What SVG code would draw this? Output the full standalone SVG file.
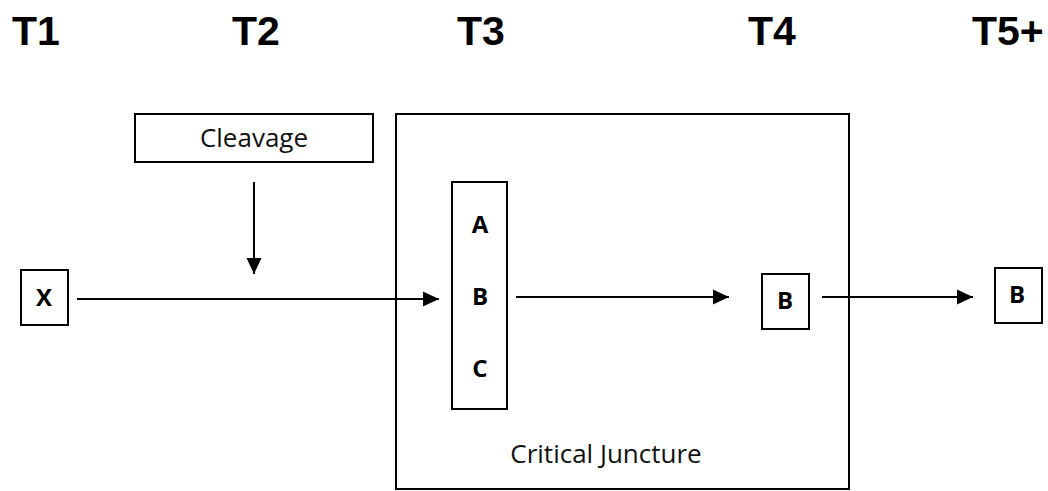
<svg xmlns="http://www.w3.org/2000/svg" width="1048" height="491" viewBox="0 0 1048 491">
<defs>
<marker id="arr" markerUnits="userSpaceOnUse" markerWidth="18" markerHeight="18" viewBox="0 0 18 18" refX="16" refY="9" orient="auto">
<path d="M0,1.5 L16,9 L0,16.5 Z" fill="#000"/>
</marker>
<style>
.box{fill:#fff;stroke:#000;stroke-width:2}
.frame{fill:none;stroke:#000;stroke-width:2}
.hdr{font-family:"Liberation Sans",Arial,sans-serif;font-weight:bold;font-size:41px;fill:#000}
.lbl{font-family:"Open Sans","Liberation Sans",sans-serif;font-size:26px;fill:#111;text-anchor:middle}
.let{font-family:"Open Sans","Liberation Sans",sans-serif;font-weight:bold;font-size:24px;fill:#000;text-anchor:middle}
.conn{stroke:#000;stroke-width:2;fill:none;marker-end:url(#arr)}
</style>
</defs>
<rect width="1048" height="491" fill="#fff"/>
<g id="headers">
<text class="hdr" x="12" y="45">T1</text>
<text class="hdr" x="232" y="45">T2</text>
<text class="hdr" x="457" y="45">T3</text>
<text class="hdr" x="748" y="45">T4</text>
<text class="hdr" x="972" y="45">T5+</text>
</g>
<g id="critical-juncture">
<rect class="frame" x="396" y="114" width="453" height="375"/>
<text class="lbl" x="606" y="463">Critical Juncture</text>
</g>
<g id="cleavage">
<rect class="box" x="135" y="114" width="238" height="48"/>
<text class="lbl" x="254" y="147">Cleavage</text>
</g>
<g id="x">
<rect class="box" x="21" y="270" width="47" height="55"/>
<text class="let" x="44" y="306">X</text>
</g>
<g id="abc">
<rect class="box" x="452" y="182" width="55" height="227"/>
<text class="let" x="480" y="233">A</text>
<text class="let" x="480" y="305">B</text>
<text class="let" x="480" y="377">C</text>
</g>
<g id="b4">
<rect class="box" x="762" y="274" width="47" height="55"/>
<text class="let" x="785" y="309">B</text>
</g>
<g id="b5">
<rect class="box" x="995" y="268" width="47" height="55"/>
<text class="let" x="1017" y="303">B</text>
</g>
<g id="connectors">
<line class="conn" x1="254" y1="182" x2="254" y2="274"/>
<line class="conn" x1="77" y1="299" x2="439" y2="299"/>
<line class="conn" x1="516" y1="297" x2="729" y2="297"/>
<line class="conn" x1="822" y1="297" x2="973" y2="297"/>
</g>
</svg>
